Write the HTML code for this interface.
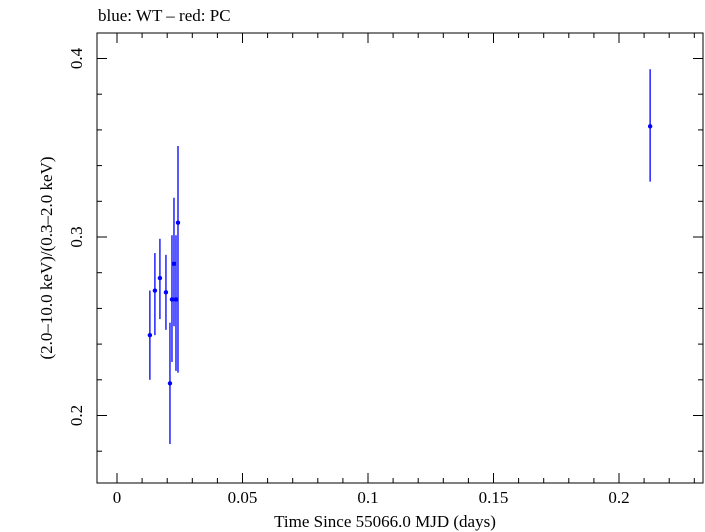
<!DOCTYPE html>
<html><head><meta charset="utf-8"><style>body{margin:0;background:#fff}svg{display:block}text{font-family:"Liberation Serif",serif;fill:#000}</style></head>
<body>
<svg id="c" width="705" height="532">
<text x="98" y="21" font-size="17">blue: WT – red: PC</text>
<rect x="97" y="33" width="606" height="450" fill="none" stroke="#000" stroke-width="1"/>
<text x="385" y="527" font-size="17" text-anchor="middle">Time Since 55066.0 MJD (days)</text>
<text transform="translate(52,258) rotate(-90)" font-size="17" text-anchor="middle">(2.0–10.0 keV)/(0.3–2.0 keV)</text>
<g id="ax"></g><g id="pts"></g>
</svg>
<script>
const xVals=[0.0131,0.0151,0.0171,0.0195,0.0211,0.0219,0.0227,0.0235,0.0243,0.2124];
const yVals=[0.245,0.270,0.277,0.269,0.218,0.265,0.285,0.265,0.308,0.362];
const yLo=[0.220,0.245,0.254,0.248,0.184,0.230,0.250,0.225,0.224,0.331];
const yHi=[0.270,0.291,0.299,0.290,0.252,0.301,0.322,0.301,0.351,0.394];
const xErr=[0.0008,0.0008,0.0008,0.0008,0.0003,0.0003,0.0003,0.0003,0.0003,0.0003];
const xTicks=[0,0.05,0.1,0.15,0.2];
const xTickLabels=["0","0.05","0.1","0.15","0.2"];
const yTicks=[0.2,0.3,0.4];
const yTickLabels=["0.2","0.3","0.4"];
const X=v=>117+v*2510, Y=v=>237-(v-0.3)*1785;
const ns="http://www.w3.org/2000/svg";
function mk(t,a,p){const e=document.createElementNS(ns,t);for(const k in a)e.setAttribute(k,a[k]);p.appendChild(e);return e;}
const ax=document.getElementById('ax'),pts=document.getElementById('pts');
for(let v=0;v<=0.2301;v+=0.01){const x=X(v);if(x<98||x>702)continue;const major=Math.abs(v*20-Math.round(v*20))<1e-6;const L=major?10:5;
 let t=mk('line',{x1:x,x2:x,y1:483,y2:483-L,stroke:'#000'},ax);
 
 
 t=mk('line',{x1:x,x2:x,y1:33,y2:33+L,stroke:'#000'},ax);
 
 }
xTicks.forEach((v,i)=>{const t=mk('text',{x:X(v),y:503,'font-size':17,'text-anchor':'middle'},ax);t.textContent=xTickLabels[i];
 
 });
for(let v=0.16;v<=0.4201;v+=0.02){const y=Y(v);if(y<34||y>482)continue;const major=Math.abs(v*10-Math.round(v*10))<1e-6;const L=major?10:5;
 let t=mk('line',{x1:97,x2:97+L,y1:y,y2:y,stroke:'#000'},ax);
 
 
 t=mk('line',{x1:703,x2:703-L,y1:y,y2:y,stroke:'#000'},ax);
 
 }
yTicks.forEach((v,i)=>{const t=mk('text',{transform:`translate(82,${Y(v)}) rotate(-90)`,'font-size':17,'text-anchor':'middle'},ax);t.textContent=yTickLabels[i];
 
 });
xVals.forEach((v,i)=>{const g=mk('g',{},pts);
 
 
 mk('line',{x1:X(v),x2:X(v),y1:Y(yLo[i]),y2:Y(yHi[i]),stroke:'#0000ff','stroke-width':1.3},g);
 mk('line',{x1:X(v-xErr[i]),x2:X(v+xErr[i]),y1:Y(yVals[i]),y2:Y(yVals[i]),stroke:'#0000ff','stroke-width':1.3},g);
 mk('circle',{cx:X(v),cy:Y(yVals[i]),r:2.2,fill:'#0000ff'},g);});
</script>
</body></html>
